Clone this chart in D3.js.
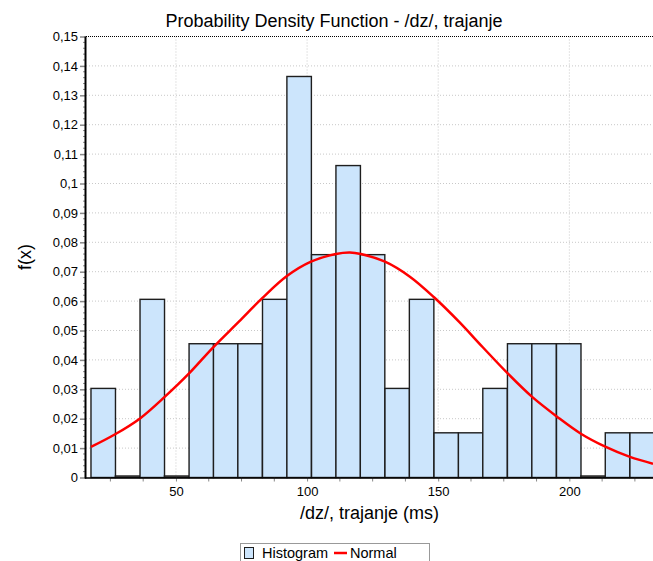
<!DOCTYPE html>
<html lang="en">
  <head>
    <meta charset="utf-8">
    <title>Probability Density Function</title>
    <script src="https://d3js.org/d3.v7.min.js"></script>
    <style>
      body { margin: 0; background: #fff; }
      svg { display: block; font-family: "Liberation Sans", Arial, sans-serif; }
      .tickLabel { font-size: 13px; fill: #000; }
      .bigLabel { font-size: 18px; fill: #000; }
      .legendText { font-size: 14.5px; fill: #000; }
    </style>
  </head>
  <body>
    <script>
      // data
      var binStarts = [17.6, 26.9, 36.3, 45.6, 55.0, 64.3, 73.6, 83.0, 92.3, 101.7, 111.0, 120.3,
        129.7, 139.0, 148.4, 157.7, 167.0, 176.4, 185.7, 195.1, 204.4, 213.7, 223.1];
      var binWidth = 9.34;
      var binValues = [0.0303, 0, 0.0606, 0, 0.0455, 0.0455, 0.0455, 0.0606, 0.1364, 0.0758, 0.1061, 0.0758,
        0.0303, 0.0606, 0.0152, 0.0152, 0.0303, 0.0455, 0.0455, 0.0455, 0, 0.0152, 0.0152];

      var normalX = [17.6, 26.8, 36.3, 45.8, 55.0, 64.1, 74.0, 82.8, 92.3, 101.5, 111.0, 116.3, 120.5,
        129.7, 139.2, 148.4, 157.9, 167.0, 176.5, 185.7, 195.3, 204.4, 213.9, 223.1, 231.9];
      var normalY = [0.0104, 0.0147, 0.0201, 0.0275, 0.0354, 0.0442, 0.0530, 0.0609, 0.0685, 0.0734, 0.0760, 0.0765, 0.0760,
        0.0734, 0.0683, 0.0613, 0.0530, 0.0443, 0.0354, 0.0275, 0.0207, 0.0149, 0.0104, 0.0070, 0.0047];

      var xTicks = [50, 100, 150, 200];
      var yTicks = [0, 0.01, 0.02, 0.03, 0.04, 0.05, 0.06, 0.07, 0.08, 0.09, 0.1, 0.11, 0.12, 0.13, 0.14, 0.15];

      var outerWidth = 653,
        outerHeight = 561;

      var margin = { top: 36.5, left: 86, right: 0, bottom: 83.5 };
      var width = outerWidth - margin.left - margin.right,
        height = outerHeight - margin.top - margin.bottom;

      var xScale = d3.scaleLinear().domain([15.7, 231.9]).range([0, width]);
      var yScale = d3.scaleLinear().domain([0, 0.15]).range([height, 0]);

      // decimal comma labels like the original
      var fmt = function(d) { return d3.format("~g")(+d.toFixed(2)).replace(".", ","); };

      var svg = d3.select("body").append("svg")
        .attr("width", outerWidth)
        .attr("height", outerHeight);

      var g = svg.append("g")
        .attr("transform", "translate(" + margin.left + "," + margin.top + ")");

      g.append("clipPath").attr("id", "plotClip")
        .append("rect").attr("width", width).attr("height", height + 2);

      // grid
      g.selectAll(".hgrid").data(yTicks.slice(1, -1)).enter().append("line")
        .attr("x1", 0).attr("x2", width)
        .attr("y1", function(d) { return yScale(d); })
        .attr("y2", function(d) { return yScale(d); })
        .attr("stroke", "#c8c8c8").attr("stroke-dasharray", "1,2");

      g.selectAll(".vgrid").data(xTicks).enter().append("line")
        .attr("x1", function(d) { return xScale(d); })
        .attr("x2", function(d) { return xScale(d); })
        .attr("y1", 0).attr("y2", height)
        .attr("stroke", "#c8c8c8").attr("stroke-dasharray", "1,2");

      // top border dotted
      g.append("line").attr("x1", 0).attr("x2", width).attr("y1", 0).attr("y2", 0)
        .attr("stroke", "#000").attr("stroke-dasharray", "1,1");

      // bars
      g.append("g").attr("clip-path", "url(#plotClip)")
        .selectAll("rect").data(binValues).enter().append("rect")
        .attr("x", function(d, i) { return xScale(binStarts[i]); })
        .attr("width", function(d, i) { return xScale(binStarts[i] + binWidth) - xScale(binStarts[i]); })
        .attr("y", function(d) { return Math.min(yScale(d), height - 1.5); })
        .attr("height", function(d) { return Math.max(height - yScale(d), 1.5); })
        .attr("fill", function(d) { return d > 0 ? "#cce5fc" : "#fff"; })
        .attr("stroke", "#1e1e1e")
        .attr("stroke-width", 1.4);

      // normal curve
      var line = d3.line()
        .x(function(d) { return xScale(d[0]); })
        .y(function(d) { return yScale(d[1]); })
        .curve(d3.curveCatmullRom);

      g.append("path")
        .datum(normalX.map(function(x, i) { return [x, normalY[i]]; }))
        .attr("d", line)
        .attr("fill", "none")
        .attr("stroke", "#ff0000")
        .attr("stroke-width", 2.5);

      // y minor ticks
      var yMinor = d3.range(0, 75).map(function(i) { return i * 0.002; }).filter(function(d, i) { return i % 5 !== 0; });
      g.selectAll(".yminor").data(yMinor).enter().append("line")
        .attr("x1", -3).attr("x2", 0)
        .attr("y1", function(d) { return yScale(d); })
        .attr("y2", function(d) { return yScale(d); })
        .attr("stroke", "#888");

      // y axis
      var yAxis = g.append("g")
        .call(d3.axisLeft(yScale).tickValues(yTicks).tickSize(6).tickPadding(2).tickFormat(fmt));
      yAxis.select(".domain").remove();
      yAxis.selectAll(".tick line").attr("stroke", "#888").attr("stroke-width", 1.5);
      yAxis.selectAll("text").attr("class", "tickLabel").attr("font-family", null).attr("font-size", null);
      g.append("line").attr("x1", -0.5).attr("x2", -0.5).attr("y1", 0).attr("y2", height + 1)
        .attr("stroke", "#000").attr("stroke-width", 2);

      // x minor ticks every 12.5
      var xMinor = d3.range(25, 232, 12.5).filter(function(d) { return d % 50 !== 0; });
      g.selectAll(".xminor").data(xMinor).enter().append("line")
        .attr("x1", function(d) { return xScale(d); })
        .attr("x2", function(d) { return xScale(d); })
        .attr("y1", height).attr("y2", height + 4)
        .attr("stroke", "#888");

      // x axis
      var xAxis = g.append("g")
        .attr("transform", "translate(0," + height + ")")
        .call(d3.axisBottom(xScale).tickValues(xTicks).tickSize(4).tickPadding(5));
      xAxis.select(".domain").remove();
      xAxis.selectAll(".tick line").attr("stroke", "#888");
      xAxis.selectAll("text").attr("class", "tickLabel").attr("font-family", null).attr("font-size", null);
      g.append("line").attr("x1", -1).attr("x2", width).attr("y1", height + 0.5).attr("y2", height + 0.5)
        .attr("stroke", "#000").attr("stroke-width", 1.5);

      // titles
      svg.append("text").attr("class", "bigLabel")
        .attr("x", 334).attr("y", 27).attr("text-anchor", "middle")
        .text("Probability Density Function - /dz/, trajanje");

      svg.append("text").attr("class", "bigLabel")
        .attr("x", margin.left + width / 2).attr("y", 519).attr("text-anchor", "middle")
        .text("/dz/, trajanje (ms)");

      svg.append("text").attr("class", "bigLabel")
        .attr("transform", "translate(31,257) rotate(-90)").attr("text-anchor", "middle")
        .text("f(x)");

      // legend
      var legend = svg.append("g").attr("transform", "translate(240,543)");
      legend.append("rect").attr("x", 0.5).attr("y", 0.5).attr("width", 189).attr("height", 24)
        .attr("fill", "#fff").attr("stroke", "#999");
      legend.append("rect").attr("x", 4.5).attr("y", 4.5).attr("width", 9).attr("height", 11)
        .attr("fill", "#cce5fc").attr("stroke", "#1e1e1e");
      legend.append("text").attr("class", "legendText").attr("x", 22).attr("y", 15).text("Histogram");
      legend.append("line").attr("x1", 94).attr("x2", 107).attr("y1", 10).attr("y2", 10)
        .attr("stroke", "#ff0000").attr("stroke-width", 2.5);
      legend.append("text").attr("class", "legendText").attr("x", 110).attr("y", 15).text("Normal");
    </script>
  </body>
</html>
